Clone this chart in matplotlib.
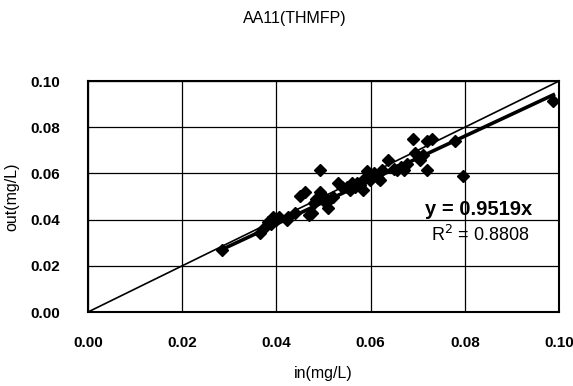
import matplotlib
matplotlib.use("Agg")
import matplotlib.pyplot as plt
import numpy as np

plt.rcParams["font.family"] = ["Liberation Sans", "DejaVu Sans"]

# AA11(THMFP): inflow vs outflow concentration (mg/L)
x_in = [0.0284, 0.0365, 0.0372, 0.0382, 0.0388, 0.0393, 0.0400, 0.0405,
        0.0422, 0.0425, 0.0440, 0.0450, 0.0460, 0.0470, 0.0475, 0.0480,
        0.0485, 0.0493, 0.0493, 0.0500, 0.0505, 0.0510, 0.0520, 0.0531,
        0.0540, 0.0550, 0.0556, 0.0560, 0.0567, 0.0572, 0.0578, 0.0583,
        0.0588, 0.0592, 0.0598, 0.0603, 0.0608, 0.0615, 0.0620, 0.0624,
        0.0637, 0.0650, 0.0656, 0.0665, 0.0670, 0.0677, 0.0690, 0.0694,
        0.0705, 0.0712, 0.0720, 0.0720, 0.0730, 0.0780, 0.0797, 0.0988]
y_out = [0.0270, 0.0343, 0.0360, 0.0390, 0.0380, 0.0413, 0.0400, 0.0410,
         0.0400, 0.0410, 0.0430, 0.0504, 0.0520, 0.0420, 0.0430, 0.0470,
         0.0490, 0.0613, 0.0520, 0.0500, 0.0470, 0.0450, 0.0500, 0.0560,
         0.0540, 0.0540, 0.0530, 0.0560, 0.0540, 0.0560, 0.0550, 0.0530,
         0.0580, 0.0610, 0.0570, 0.0595, 0.0600, 0.0580, 0.0570, 0.0617,
         0.0660, 0.0620, 0.0617, 0.0630, 0.0617, 0.0640, 0.0748, 0.0690,
         0.0660, 0.0680, 0.0617, 0.0740, 0.0748, 0.0740, 0.0590, 0.0913]
slope = 0.9519
r2 = 0.8808

xticks = [0.00, 0.02, 0.04, 0.06, 0.08, 0.10]
yticks = [0.00, 0.02, 0.04, 0.06, 0.08, 0.10]

fig = plt.figure(figsize=(5.73, 3.86), dpi=100)
ax = fig.add_axes([0.1536, 0.1917, 0.8220, 0.5983])

# 1:1 line and fitted trend line through origin
ax.plot([0, 0.1], [0, 0.1], color="black", lw=1.2, zorder=2)
xs = np.array([min(x_in), max(x_in)])
ax.plot(xs, slope * xs, color="black", lw=2.6, zorder=2)
ax.plot(x_in, y_out, ls="none", marker="D", ms=6.2, color="black", zorder=3)

ax.set_xlim(0, 0.1)
ax.set_ylim(0, 0.1)
ax.set_xticks(xticks)
ax.set_yticks(yticks)
ax.set_xticklabels([f"{t:.2f}" for t in xticks], fontweight="bold", fontsize=11)
ax.set_yticklabels([f"{t:.2f}" for t in yticks], fontweight="bold", fontsize=11)
ax.tick_params(length=0, pad=17)
ax.tick_params(axis="y", pad=20)
ax.grid(True, color="black", lw=0.9)
ax.set_axisbelow(True)
for sp in ax.spines.values():
    sp.set_linewidth(1.5)

ax.set_xlabel("in(mg/L)", fontsize=11.5, labelpad=12)
ax.set_ylabel("out(mg/L)", fontsize=11.5, labelpad=8)
fig.text(0.515, 0.953, "AA11(THMFP)", ha="center", va="center", fontsize=11.5)

ax.text(0.0830, 0.0445, f"y = {slope}x", ha="center", va="center",
        fontsize=14.5, fontweight="bold")
ax.text(0.0832, 0.0335, f"R$^2$ = {r2:.4f}", ha="center", va="center",
        fontsize=13)

fig.savefig("out.png", dpi=100)
